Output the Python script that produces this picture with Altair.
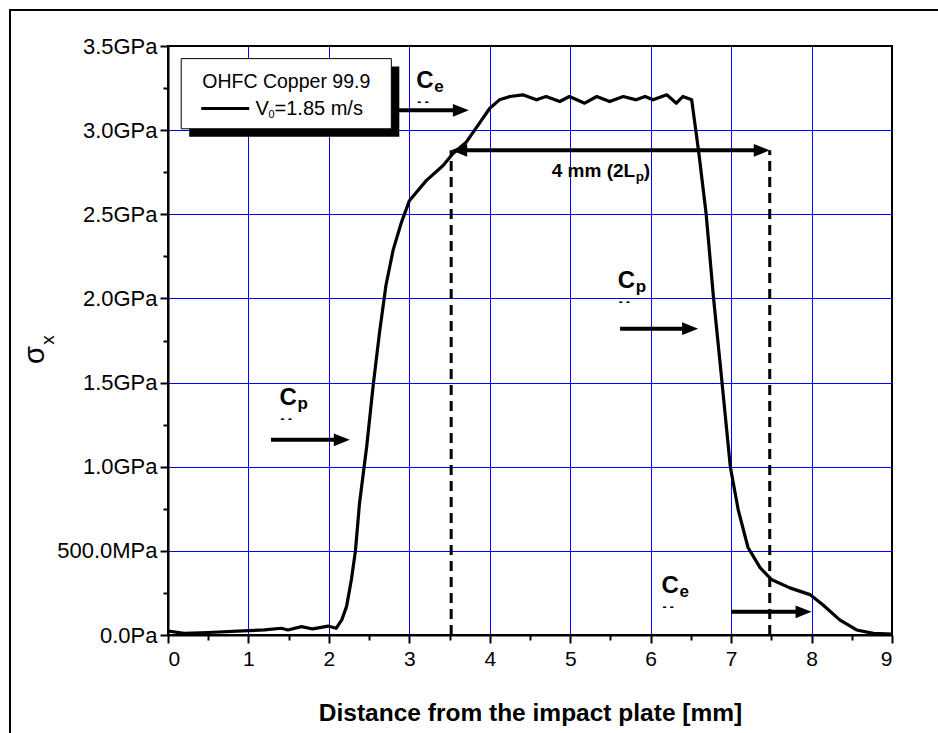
import altair as alt
import pandas as pd

# Longitudinal stress profile in the copper bar
distance_mm = [0.0, 0.2, 0.5, 1.0, 1.2, 1.41, 1.49, 1.66, 1.8, 1.99, 2.09, 2.16,
               2.22, 2.28, 2.33, 2.38, 2.47, 2.55, 2.63, 2.71, 2.80, 2.90, 3.0,
               3.21, 3.42, 3.54, 3.71, 3.87, 4.0, 4.12, 4.25, 4.41, 4.58, 4.70,
               4.87, 4.99, 5.18, 5.33, 5.49, 5.66, 5.82, 5.93, 6.03, 6.20, 6.32,
               6.40, 6.51, 6.60, 6.69, 6.78, 6.86, 6.92, 6.99, 7.09, 7.21, 7.36,
               7.50, 7.73, 7.98, 8.14, 8.35, 8.56, 8.77, 9.0]
stress_gpa = [0.024, 0.01, 0.015, 0.026, 0.03, 0.04, 0.03, 0.05, 0.036, 0.053,
              0.04, 0.09, 0.17, 0.33, 0.50, 0.78, 1.12, 1.48, 1.80, 2.08, 2.29,
              2.45, 2.58, 2.70, 2.79, 2.86, 2.93, 3.04, 3.13, 3.18, 3.20, 3.21,
              3.18, 3.20, 3.17, 3.20, 3.16, 3.20, 3.17, 3.20, 3.18, 3.20, 3.18,
              3.21, 3.16, 3.20, 3.18, 2.86, 2.50, 2.01, 1.63, 1.34, 1.0, 0.74,
              0.52, 0.40, 0.33, 0.28, 0.24, 0.18, 0.09, 0.03, 0.01, 0.005]

# Axis ticks (major + minor)
x_ticks = [0, 0.5, 1, 1.5, 2, 2.5, 3, 3.5, 4, 4.5, 5, 5.5, 6, 6.5, 7, 7.5, 8, 8.5, 9]
y_ticks = [0, 0.25, 0.5, 0.75, 1, 1.25, 1.5, 1.75, 2, 2.25, 2.5, 2.75, 3, 3.25, 3.5]

# Plastic wave span (2Lp = 4 mm)
span_edges = [3.52, 7.48]
span_level = 2.88

# Wave-speed arrows: start, tip, level
arrow_start = [2.755, 1.28, 5.62, 7.0]
arrow_tip = [3.74, 2.26, 6.59, 8.0]
arrow_level = [3.118, 1.16, 1.82, 0.138]

FONT = "Liberation Sans"
BLUE = "#0000ff"
W, H = 724, 589
LEFT, TOP = 168, 46

x_scale = alt.Scale(domain=[0, 9], nice=False, zero=False)
y_scale = alt.Scale(domain=[0, 3.5], nice=False, zero=False)

x_axis = alt.Axis(
    values=x_ticks,
    labelExpr="datum.value % 1 === 0 ? format(datum.value, 'd') : ''",
    tickSize={"condition": {"test": "datum.value % 1 !== 0", "value": 5}, "value": 8},
    tickWidth=2, tickColor="black",
    grid=True, gridColor=BLUE, gridWidth=1,
    gridOpacity={"condition": {"test": "datum.value % 1 === 0 && datum.value > 0 && datum.value < 9",
                               "value": 1}, "value": 0},
    domainColor="black", domainWidth=2,
    labelFont=FONT, labelFontSize=21, labelColor="black", labelPadding=5,
    title="Distance from the impact plate [mm]",
    titleFont=FONT, titleFontSize=24.5, titleFontWeight="bold", titleColor="black",
    titlePadding=32,
)
y_axis = alt.Axis(
    values=y_ticks,
    labelExpr=("datum.value % 0.5 !== 0 ? '' : datum.value === 0 ? '0.0Pa' : "
               "datum.value < 1 ? format(datum.value * 1000, '.1f') + 'MPa' : "
               "format(datum.value, '.1f') + 'GPa'"),
    tickSize={"condition": {"test": "datum.value % 0.5 !== 0", "value": 5}, "value": 8},
    tickWidth=2, tickColor="black",
    grid=True, gridColor=BLUE, gridWidth=1,
    gridOpacity={"condition": {"test": "datum.value % 0.5 === 0 && datum.value > 0 && datum.value < 3.5",
                               "value": 1}, "value": 0},
    domainColor="black", domainWidth=2,
    labelFont=FONT, labelFontSize=22, labelColor="black", labelPadding=3,
    title="",
)

curve_df = pd.DataFrame({"d": distance_mm, "s": stress_gpa})

curve = alt.Chart(curve_df).mark_line(color="black", strokeWidth=3.2, strokeJoin="round").encode(
    x=alt.X("d:Q", scale=x_scale, axis=x_axis),
    y=alt.Y("s:Q", scale=y_scale, axis=y_axis),
    order="d:Q",
)

# Dashed verticals bounding the plateau
dash_df = pd.DataFrame({"d": span_edges, "lo": [0, 0], "hi": [span_level, span_level]})
dashes = alt.Chart(dash_df).mark_rule(color="black", strokeWidth=3, strokeDash=[10, 6]).encode(
    x="d:Q", y="lo:Q", y2="hi:Q"
)

# Double-headed span arrow
span_df = pd.DataFrame({"a": [span_edges[0]], "b": [span_edges[1]], "y": [span_level]})
span_shaft = alt.Chart(span_df).mark_rule(
    color="black", strokeWidth=4, xOffset=12, x2Offset=-12
).encode(x="a:Q", x2="b:Q", y="y:Q")

RIGHT_HEAD = "M -1 -0.8 L 1 0 L -1 0.8 Z"
LEFT_HEAD = "M 1 -0.8 L -1 0 L 1 0.8 Z"

heads_r_df = pd.DataFrame({"x": arrow_tip + [span_edges[1]], "y": arrow_level + [span_level]})
heads_l_df = pd.DataFrame({"x": [span_edges[0]], "y": [span_level]})
heads_r = alt.Chart(heads_r_df).mark_point(
    shape=RIGHT_HEAD, filled=True, size=256, color="black", opacity=1, xOffset=-8
).encode(x="x:Q", y="y:Q")
heads_l = alt.Chart(heads_l_df).mark_point(
    shape=LEFT_HEAD, filled=True, size=256, color="black", opacity=1, xOffset=8
).encode(x="x:Q", y="y:Q")

arrow_df = pd.DataFrame({"a": arrow_start, "b": arrow_tip, "y": arrow_level})
shafts = alt.Chart(arrow_df).mark_rule(color="black", strokeWidth=4, x2Offset=-12).encode(
    x="a:Q", x2="b:Q", y="y:Q"
)


def label(rows, **props):
    df = pd.DataFrame(rows, columns=["x", "y", "t"])
    base = dict(font=FONT, color="black")
    base.update(props)
    return alt.Chart(df).mark_text(**base).encode(x="x:Q", y="y:Q", text="t:N")


# Wave speed labels C_e / C_p with subscripts and dot marks
c_left = [3.087, 1.387, 5.591, 6.134]
c_base = [3.25, 1.366, 2.06, 0.249]
c_subs = ["e", "p", "p", "e"]
c_main = label([(x, y, "C") for x, y in zip(c_left, c_base)],
               fontSize=24, fontWeight="bold", align="left", baseline="alphabetic")
c_sub = label([(x, y, s) for x, y, s in zip(c_left, c_base, c_subs)],
              fontSize=17, fontWeight="bold", align="left", baseline="alphabetic", dx=18, dy=4)
c_dots = label([(x, y, "- -") for x, y in zip(c_left, c_base)],
               fontSize=12, fontWeight="bold", align="left", baseline="middle", dx=1, dy=14)

span_txt = label([(4.77, 2.72, "4 mm (2L")], fontSize=19, fontWeight="bold",
                 align="left", baseline="alphabetic")
span_sub = label([(4.77, 2.72, "p")], fontSize=13.5, fontWeight="bold",
                 align="left", baseline="alphabetic", dx=84, dy=4)
span_close = label([(4.77, 2.72, ")")], fontSize=19, fontWeight="bold",
                   align="left", baseline="alphabetic", dx=92)

# Legend box with drop shadow
box_df = pd.DataFrame({"x": [0.164], "x2": [2.776], "y": [3.425], "y2": [3.008]})
shadow = alt.Chart(box_df).mark_rect(
    color="black", xOffset=8, x2Offset=8, yOffset=8, y2Offset=8
).encode(x="x:Q", x2="x2:Q", y="y:Q", y2="y2:Q")
box = alt.Chart(box_df).mark_rect(fill="white", stroke="black", strokeWidth=1).encode(
    x="x:Q", x2="x2:Q", y="y:Q", y2="y2:Q"
)
sample_df = pd.DataFrame({"a": [0.413], "b": [1.01], "y": [3.128]})
sample = alt.Chart(sample_df).mark_rule(color="black", strokeWidth=3).encode(
    x="a:Q", x2="b:Q", y="y:Q"
)
leg_title = label([(1.47, 3.248, "OHFC Copper 99.9")], fontSize=19.5,
                  align="center", baseline="alphabetic")
leg_v = label([(1.088, 3.088, "V")], fontSize=20, align="left", baseline="alphabetic")
leg_v0 = label([(1.088, 3.088, "0")], fontSize=11, align="left", baseline="alphabetic", dx=13, dy=3)
leg_rest = label([(1.088, 3.088, "=1.85 m/s")], fontSize=20, align="left",
                 baseline="alphabetic", dx=19)

# Y-axis symbol sigma_x, rotated, and the outer figure frame
one = pd.DataFrame({"k": [0]})
sigma = alt.Chart(one).mark_text(
    text="σ", font=FONT, fontSize=29, angle=270, align="center", baseline="middle", color="black"
).encode(x=alt.value(35 - LEFT), y=alt.value(355 - TOP))
sigma_sub = alt.Chart(one).mark_text(
    text="x", font=FONT, fontSize=19, angle=270, align="center", baseline="middle", color="black"
).encode(x=alt.value(48 - LEFT), y=alt.value(340 - TOP))
frame_left = alt.Chart(one).mark_rule(color="black", strokeWidth=2).encode(
    x=alt.value(10 - LEFT), y=alt.value(9 - TOP), y2=alt.value(760)
)
frame_top = alt.Chart(one).mark_rule(color="black", strokeWidth=2).encode(
    x=alt.value(10 - LEFT), x2=alt.value(960), y=alt.value(10 - TOP)
)

chart = alt.layer(
    curve, dashes, span_shaft, shafts, heads_r, heads_l,
    shadow, box, sample, leg_title, leg_v, leg_v0, leg_rest,
    c_main, c_sub, c_dots, span_txt, span_sub, span_close,
    sigma, sigma_sub, frame_left, frame_top,
).properties(
    width=W, height=H,
    padding={"left": LEFT, "top": TOP, "right": 938 - LEFT - W, "bottom": 733 - TOP - H},
    autosize=alt.AutoSizeParams(type="none"),
    background="white",
).configure_view(stroke="black", strokeWidth=2)

chart.save("out.html", embed_options={"renderer": "svg", "actions": False})
